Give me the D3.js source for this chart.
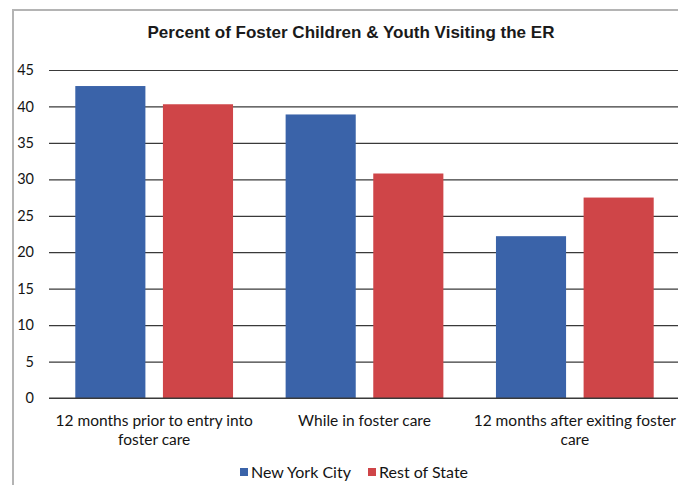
<!DOCTYPE html>
<html>
<head>
<meta charset="utf-8">
<script src="https://cdn.jsdelivr.net/npm/d3@7"></script>
<style>
  html, body { margin: 0; padding: 0; background: #fff; }
  svg { display: block; }
</style>
</head>
<body>
<svg id="chart" width="678" height="485"></svg>
<script>
// Share of foster children & youth with an ER visit, by period
const categories = [
  ["12 months prior to entry into", "foster care"],
  ["While in foster care"],
  ["12 months after exiting foster", "care"]
];
const seriesNames = ["New York City", "Rest of State"];
const nycValues = [42.8, 38.9, 22.2];
const restValues = [40.3, 30.8, 27.5];
const yTicks = [0, 5, 10, 15, 20, 25, 30, 35, 40, 45];
const colors = ["#3a63a9", "#cf4548"];

const svg = d3.select("#chart");
const W = 678, H = 485;
const plot = { left: 49, right: 680, top: 70, bottom: 398 };
const labelFont = "Lato, 'Open Sans', sans-serif";

// Frame around the chart area
svg.append("path")
  .attr("d", `M13,${H + 2} V10 H${W + 2}`)
  .attr("fill", "none")
  .attr("stroke", "#b4b4b4")
  .attr("stroke-width", 2);

// Title
svg.append("text")
  .attr("x", 351).attr("y", 38)
  .attr("text-anchor", "middle")
  .attr("font-family", "Liberation Sans, Arial, sans-serif")
  .attr("font-weight", "bold")
  .attr("font-size", 16.5)
  .attr("fill", "#1a1a1a")
  .attr("textLength", 407)
  .attr("lengthAdjust", "spacingAndGlyphs")
  .text("Percent of Foster Children & Youth Visiting  the ER");

const y = d3.scaleLinear().domain([0, 45]).range([plot.bottom, plot.top]);
const x0 = d3.scaleBand()
  .domain(d3.range(categories.length))
  .range([plot.left, plot.right])
  .paddingInner(0.25).paddingOuter(0.125);
const x1 = d3.scaleBand()
  .domain(d3.range(seriesNames.length))
  .range([0, x0.bandwidth()])
  .paddingInner(0.2);

// Horizontal gridlines + y tick labels
const yAxis = d3.axisLeft(y).tickValues(yTicks).tickSize(-(W - plot.left)).tickPadding(15);
const yg = svg.append("g").attr("transform", `translate(${plot.left},0)`).call(yAxis);
yg.select(".domain").remove();
yg.selectAll(".tick line").attr("stroke", "#3a3a3a").attr("stroke-width", 1.2);
yg.selectAll(".tick text")
  .attr("font-family", labelFont)
  .attr("font-size", 14.5)
  .attr("fill", "#141414");

// Bars
const series = [nycValues, restValues];
const groups = svg.append("g").selectAll("g")
  .data(categories.map((c, i) => i))
  .join("g")
  .attr("transform", i => `translate(${x0(i)},0)`);

groups.selectAll("rect")
  .data(i => series.map((vals, s) => ({ s, v: vals[i] })))
  .join("rect")
  .attr("x", d => x1(d.s))
  .attr("width", x1.bandwidth())
  .attr("y", d => y(d.v))
  .attr("height", d => y(0) - y(d.v))
  .attr("fill", d => colors[d.s]);

// Baseline
svg.append("line")
  .attr("x1", plot.left).attr("x2", W)
  .attr("y1", y(0)).attr("y2", y(0))
  .attr("stroke", "#3a3a3a").attr("stroke-width", 1.2);

// Category labels (wrapped)
const catLabels = svg.append("g").selectAll("text")
  .data(categories)
  .join("text")
  .attr("x", (d, i) => x0(i) + x0.bandwidth() / 2)
  .attr("y", 426)
  .attr("text-anchor", "middle")
  .attr("font-family", labelFont)
  .attr("font-size", 15.5)
  .attr("fill", "#141414");
catLabels.selectAll("tspan")
  .data(d => d)
  .join("tspan")
  .attr("x", function () { return d3.select(this.parentNode).attr("x"); })
  .attr("dy", (d, i) => i === 0 ? 0 : 19)
  .text(d => d);

// Legend
const legendItems = [
  { name: seriesNames[0], color: colors[0], x: 240 },
  { name: seriesNames[1], color: colors[1], x: 368 }
];
const lg = svg.append("g").selectAll("g").data(legendItems).join("g")
  .attr("transform", d => `translate(${d.x},0)`);
lg.append("rect").attr("x", 0).attr("y", 468).attr("width", 8).attr("height", 8)
  .attr("fill", d => d.color);
lg.append("text").attr("x", 11).attr("y", 478)
  .attr("font-family", labelFont)
  .attr("font-size", 16)
  .attr("fill", "#141414")
  .text(d => d.name);
</script>
</body>
</html>
